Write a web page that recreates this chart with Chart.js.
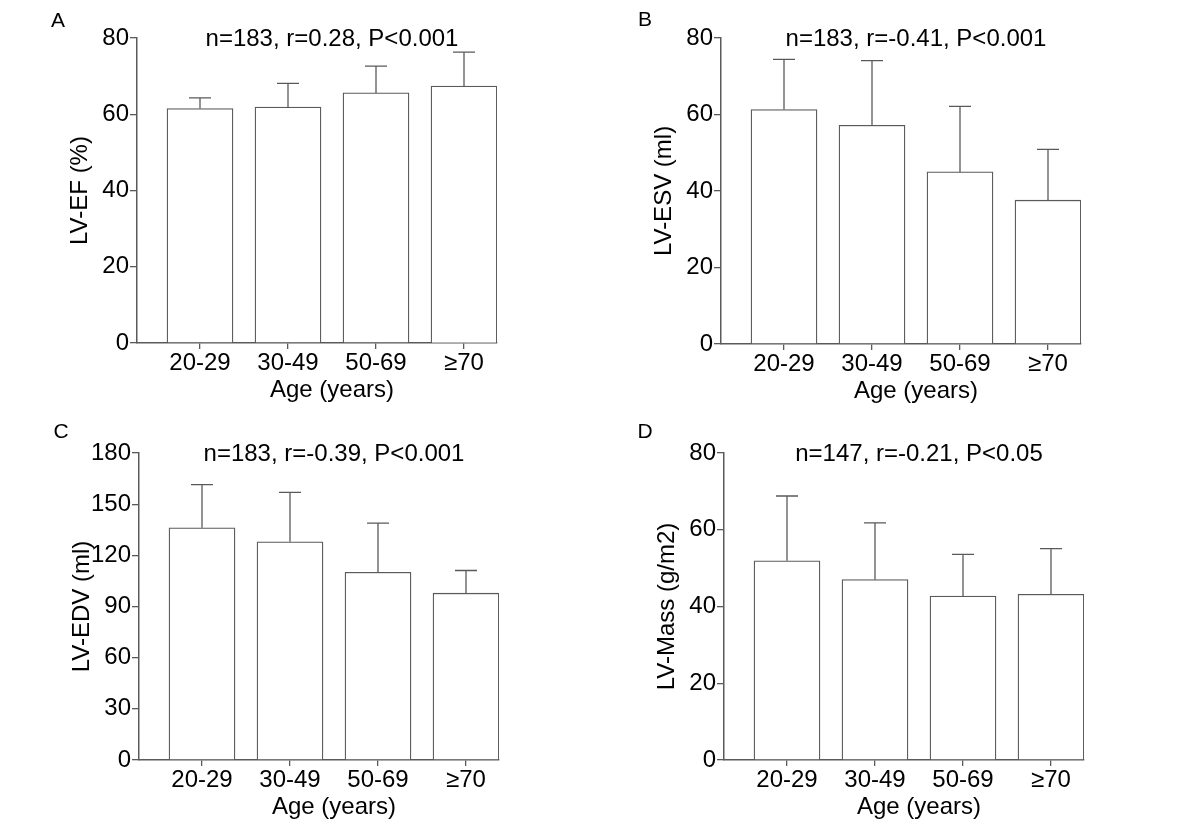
<!DOCTYPE html>
<html>
<head>
<meta charset="utf-8">
<script src="https://cdn.jsdelivr.net/npm/chart.js@4"></script>
<style>
  body { margin: 0; background: #fff; }
  .wrap { position: absolute; width: 600px; height: 414px; }
</style>
</head>
<body>
<div class="wrap" style="left:0;top:0"><canvas id="chart-a"></canvas></div>
<div class="wrap" style="left:600px;top:0"><canvas id="chart-b"></canvas></div>
<div class="wrap" style="left:0;top:414px"><canvas id="chart-c"></canvas></div>
<div class="wrap" style="left:600px;top:414px"><canvas id="chart-d"></canvas></div>
<script>
// age groups
var ageGroups = ["20-29", "30-49", "50-69", "\u226570"];

// A: LV-EF (%)
var efMean = [61.5, 61.9, 65.6, 67.4];
var efSd = [2.8, 6.2, 7.0, 8.9];
var efTicks = [0, 20, 40, 60, 80];

// B: LV-ESV (ml)
var esvMean = [61.3, 57.2, 45.0, 37.6];
var esvSd = [13.1, 16.9, 17.1, 13.3];
var esvTicks = [0, 20, 40, 60, 80];

// C: LV-EDV (ml)
var edvMean = [136.1, 127.9, 110.1, 97.8];
var edvSd = [25.3, 29.0, 28.8, 13.3];
var edvTicks = [0, 30, 60, 90, 120, 150, 180];

// D: LV-Mass (g/m2)
var massMean = [51.9, 47.0, 42.7, 43.2];
var massSd = [16.9, 14.8, 10.9, 11.9];
var massTicks = [0, 20, 40, 60, 80];

var fontFamily = "'Liberation Sans', Arial, sans-serif";
Chart.defaults.font.family = fontFamily;
Chart.defaults.font.size = 24;
Chart.defaults.color = "#000";

var lineColor = "#5a5a5a";

// draws the upper error bars, stats text, panel letter and x title
var extrasPlugin = {
    id: 'extras',
    afterDatasetsDraw: function (chart) {
        var ctx = chart.ctx;
        var x = chart.scales.x, y = chart.scales.y;
        var ex = chart.options.plugins.extras;
        ctx.save();
        ctx.strokeStyle = lineColor;
        ctx.lineWidth = 1.3;
        ex.mean.forEach(function (m, i) {
            var px = x.getPixelForValue(i);
            var yb = y.getPixelForValue(m);
            var yt = y.getPixelForValue(m + ex.sd[i]);
            ctx.beginPath();
            ctx.moveTo(px, yb);
            ctx.lineTo(px, yt);
            ctx.moveTo(px - 11, yt);
            ctx.lineTo(px + 11, yt);
            ctx.stroke();
        });
        var cx = x.getPixelForValue(1.5);
        ctx.fillStyle = "#000";
        ctx.textAlign = "center";
        ctx.textBaseline = "middle";
        ctx.font = "24px " + fontFamily;
        ctx.fillText(ex.stats, cx, chart.chartArea.top + 1);
        ctx.fillText("Age (years)", cx, chart.chartArea.bottom + 47);
        ctx.font = "21px " + fontFamily;
        ctx.fillText(ex.letter, ex.letterPos[0], ex.letterPos[1]);
        ctx.restore();
    }
};

function makePanel(id, mean, sd, ticks, yTitle, stats, letter, letterPos, box) {
    var ctx = document.getElementById(id).getContext('2d');
    var unit = 88;
    var span = 360;
    var xMin = -63 / unit;
    var xMax = xMin + span / unit;
    return new Chart(ctx, {
        type: 'bar',
        data: {
            datasets: [{
                data: mean.map(function (v, i) { return { x: i, y: v }; }),
                backgroundColor: "#fff",
                borderColor: lineColor,
                borderWidth: 1.3,
                barThickness: 66
            }]
        },
        options: {
            responsive: true,
            maintainAspectRatio: false,
            animation: { duration: 0 },
            layout: {
                padding: { left: 0, top: box.top, right: 600 - box.left - span, bottom: 0 }
            },
            plugins: {
                legend: { display: false },
                tooltip: { enabled: false },
                extras: { mean: mean, sd: sd, stats: stats, letter: letter, letterPos: letterPos }
            },
            scales: {
                x: {
                    type: 'linear',
                    offset: false,
                    min: xMin,
                    max: xMax,
                    afterFit: function (s) { s.height = 414 - box.bottom; },
                    afterBuildTicks: function (s) {
                        s.ticks = ageGroups.map(function (c, i) { return { value: i }; });
                    },
                    ticks: {
                        padding: 0,
                        maxRotation: 0,
                        autoSkip: false,
                        font: { size: 24, family: fontFamily },
                        callback: function (v) { return ageGroups[v]; }
                    },
                    grid: { offset: false, drawOnChartArea: false, drawTicks: true, tickLength: 6, color: lineColor, lineWidth: 1.3 },
                    border: { display: true, color: lineColor, width: 1.5 }
                },
                y: {
                    min: ticks[0],
                    max: ticks[ticks.length - 1],
                    afterFit: function (s) { s.width = box.left; },
                    afterBuildTicks: function (s) {
                        s.ticks = ticks.map(function (t) { return { value: t }; });
                    },
                    ticks: { padding: 1, font: { size: 24, family: fontFamily } },
                    title: {
                        display: true,
                        text: yTitle,
                        font: { size: 24, family: fontFamily },
                        padding: { top: box.left - 57 - 14.4, bottom: 0 }
                    },
                    grid: { drawOnChartArea: false, drawTicks: true, tickLength: 7, color: lineColor, lineWidth: 1.3 },
                    border: { display: true, color: lineColor, width: 1.5 }
                }
            }
        },
        plugins: [extrasPlugin]
    });
}

makePanel("chart-a", efMean, efSd, efTicks, "LV-EF (%)", "n=183, r=0.28, P<0.001", "A", [58, 21],
    { left: 137, top: 38, bottom: 343 });
makePanel("chart-b", esvMean, esvSd, esvTicks, "LV-ESV (ml)", "n=183, r=-0.41, P<0.001", "B", [45, 20],
    { left: 121, top: 38, bottom: 344 });
makePanel("chart-c", edvMean, edvSd, edvTicks, "LV-EDV (ml)", "n=183, r=-0.39, P<0.001", "C", [61, 18],
    { left: 139, top: 39, bottom: 346 });
makePanel("chart-d", massMean, massSd, massTicks, "LV-Mass (g/m2)", "n=147, r=-0.21, P<0.05", "D", [45, 18],
    { left: 124, top: 39, bottom: 346 });
</script>
</body>
</html>
